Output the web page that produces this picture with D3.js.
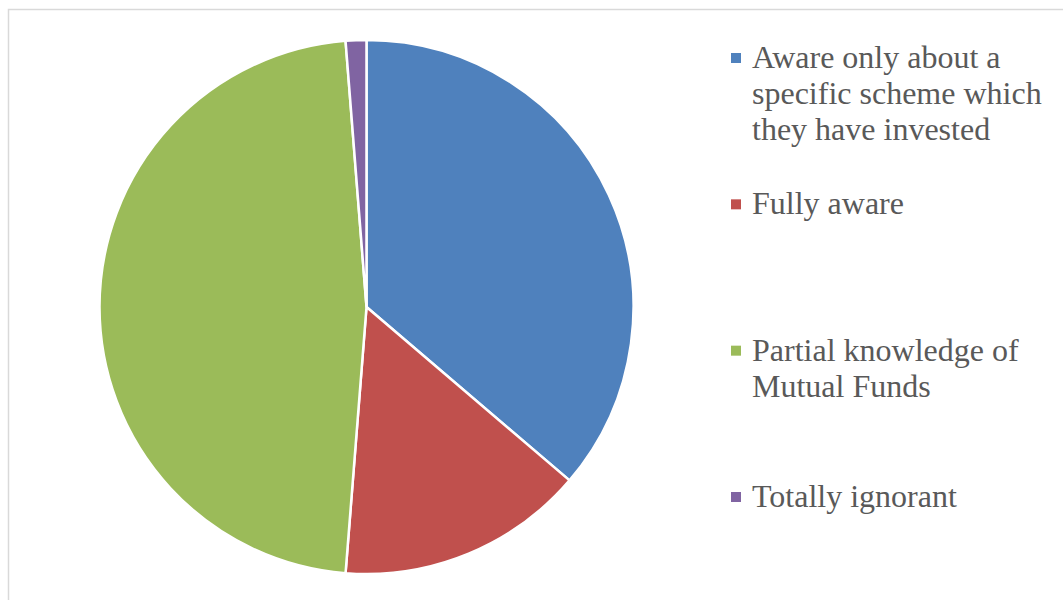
<!DOCTYPE html>
<html>
<head>
<meta charset="utf-8">
<script src="https://cdn.jsdelivr.net/npm/d3@7"></script>
<style>
  html, body { margin: 0; padding: 0; background: #fff; }
  svg { display: block; font-family: "Times New Roman", "Liberation Serif", Times, serif; }
  svg text, svg tspan { font-family: "Times New Roman", "Liberation Serif", Times, serif; }
</style>
</head>
<body>
<svg id="chart" width="1063" height="600"></svg>
<script>
// Awareness of mutual funds among respondents
const categories = [
  "Aware only about a specific scheme which they have invested",
  "Fully aware",
  "Partial knowledge of Mutual Funds",
  "Totally ignorant"
];
const counts = [29, 12, 38, 1];
const colors = ["#4f81bd", "#c0504d", "#9bbb59", "#8064a2"];
// Legend text broken into lines as laid out
const legendLines = [
  ["Aware only about a", "specific scheme which", "they have invested"],
  ["Fully aware"],
  ["Partial knowledge of", "Mutual Funds"],
  ["Totally ignorant"]
];

const svg = d3.select("#chart");
const width = 1063, height = 600;

// Chart area frame
svg.append("rect")
  .attr("x", 8.5).attr("y", 9.5)
  .attr("width", width + 10).attr("height", height + 10)
  .attr("fill", "#fff")
  .attr("stroke", "#d9d9d9")
  .attr("stroke-width", 1.5);

const cx = 366.5, cy = 307, r = 267;

const data = categories.map((c, i) => ({ name: c, value: counts[i], color: colors[i] }));

const pie = d3.pie().value(d => d.value).sort(null);
const arc = d3.arc().innerRadius(0).outerRadius(r);

svg.append("g")
  .attr("transform", `translate(${cx},${cy})`)
  .selectAll("path")
  .data(pie(data))
  .join("path")
  .attr("d", arc)
  .attr("fill", d => d.data.color)
  .attr("stroke", "#fff")
  .attr("stroke-width", 2.5)
  .attr("stroke-linejoin", "round");

// Legend
const legendY = d3.scalePoint()
  .domain(categories)
  .range([58, 497]);

const lineHeight = 36;
const legend = svg.append("g")
  .attr("font-size", 32);

const items = legend.selectAll("g")
  .data(data)
  .join("g")
  .attr("transform", d => `translate(731,${legendY(d.name)})`);

items.append("rect")
  .attr("x", 0).attr("y", -5)
  .attr("width", 10).attr("height", 10)
  .attr("fill", d => d.color);

items.append("text")
  .attr("x", 21)
  .attr("y", 10)
  .style("font-size", "32px")
  .attr("fill", "#595959")
  .selectAll("tspan")
  .data((d, i) => legendLines[i])
  .join("tspan")
  .attr("x", 21)
  .attr("dy", (d, i) => i === 0 ? 0 : lineHeight)
  .text(d => d);
</script>
</body>
</html>
